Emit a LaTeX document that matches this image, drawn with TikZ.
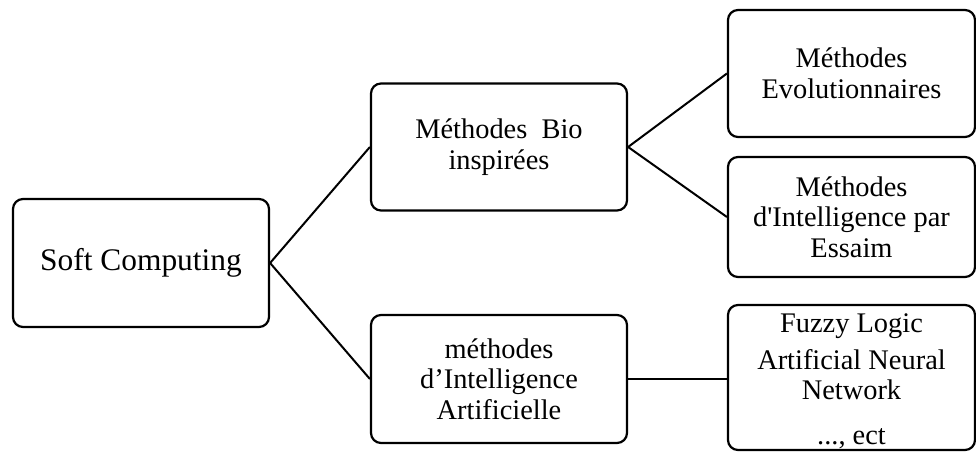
\documentclass[tikz,border=0pt]{standalone}
\usepackage{fontspec}
\setmainfont{Liberation Serif}
\usepackage{tikz}
\usetikzlibrary{positioning}

\begin{document}
\begin{tikzpicture}[x=0.5pt, y=-0.5pt,
  box/.style={draw, line width=1.1pt, rounded corners=5pt, align=center, inner sep=0pt,
    font=\fontsize{14.2}{15.3}\selectfont},
  link/.style={line width=1pt}]
  \useasboundingbox (0,0) rectangle (976,454);

  % root and the two families
  \node[box, minimum width=128pt, minimum height=64pt,
        font=\fontsize{15.7}{18}\selectfont] (soft) at (141,263) {Soft Computing};
  \node[box, minimum width=128pt, minimum height=63.5pt] (bio) at (499,147)
    {M\'ethodes~ Bio\\ inspir\'ees};
  \node[box, minimum width=128pt, minimum height=64pt] (ia) at (499,379)
    {m\'ethodes\\ d’Intelligence\\ Artificielle};

  % leaves
  \node[box, minimum width=123.5pt, minimum height=63.5pt] (evol) at (851.5,73.5)
    {M\'ethodes\\ Evolutionnaires};
  \node[box, minimum width=123.5pt, minimum height=60pt] (essaim) at (851.5,217)
    {M\'ethodes\\ d\textquotesingle Intelligence par\\ Essaim};
  \node[box, minimum width=123.5pt, minimum height=72.5pt] (fuzzy) at (851.5,377.5)
    {\rule{0pt}{13pt}Fuzzy Logic\\[3pt] Artificial Neural\\ Network\\[7pt] ..., ect};

  \draw[link] (soft.east) -- (bio.west);
  \draw[link] (soft.east) -- (ia.west);
  \draw[link] (bio.east) -- (evol.west);
  \draw[link] (bio.east) -- (essaim.west);
  \draw[link] (ia.east) -- (ia.east -| fuzzy.west);
\end{tikzpicture}
\end{document}
